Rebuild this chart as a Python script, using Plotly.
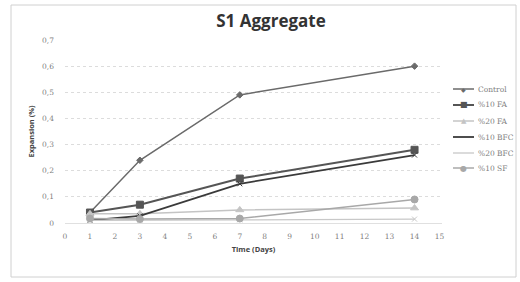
import plotly.graph_objects as go

days = [1, 3, 7, 14]
series_names = ["Control", "%10 FA", "%20 FA", "%10 BFC", "%20 BFC", "%10 SF"]
control = [0.04, 0.24, 0.49, 0.60]
fa10 = [0.04, 0.07, 0.17, 0.28]
fa20 = [0.035, 0.035, 0.05, 0.057]
bfc10 = [0.01, 0.027, 0.15, 0.26]
bfc20 = [0.01, 0.01, 0.012, 0.015]
sf10 = [0.017, 0.015, 0.017, 0.09]
y_tickvals = [0, 0.1, 0.2, 0.3, 0.4, 0.5, 0.6, 0.7]
y_ticktext = ["0", "0,1", "0,2", "0,3", "0,4", "0,5", "0,6", "0,7"]
x_tickvals = list(range(0, 16))

styles = [
    dict(color="#6a6a6a", symbol="diamond", size=5, width=1.5, glyph="◆", gsize=6),
    dict(color="#555555", symbol="square", size=7, width=2, glyph="■", gsize=8),
    dict(color="#c4c4c4", symbol="triangle-up", size=7, width=1.5, glyph="▲", gsize=7),
    dict(color="#3a3a3a", symbol="x-thin", size=5, width=1.8, glyph="", gsize=6),
    dict(color="#c8c8c8", symbol="x-thin", size=5, width=1.3, glyph="", gsize=6),
    dict(color="#a8a8a8", symbol="circle", size=7, width=1.5, glyph="●", gsize=8),
]
data = [control, fa10, fa20, bfc10, bfc20, sf10]

fig = go.Figure()
for name, vals, st in zip(series_names, data, styles):
    fig.add_trace(go.Scatter(
        x=days, y=vals, name=name, mode="lines+markers", showlegend=False,
        line=dict(color=st["color"], width=st["width"]),
        marker=dict(symbol=st["symbol"], size=st["size"], color=st["color"],
                    line=dict(color=st["color"], width=1)),
    ))

# manual legend (plot area: x 65..442 px, y 40..223 px)
PW, PH = 377.0, 183.0
def px_x(px):
    return (px - 65) / PW
def px_y(py):
    return (223 - py) / PH

legend_y = [89, 105, 121, 137, 153, 168]
shapes = [dict(type="rect", xref="paper", yref="paper",
               x0=px_x(11), x1=px_x(516), y0=px_y(277), y1=px_y(5),
               line=dict(color="#d0d0d0", width=1))]
annotations = []
for name, st, ly in zip(series_names, styles, legend_y):
    shapes.append(dict(type="line", xref="paper", yref="paper",
                       x0=px_x(453), x1=px_x(474), y0=px_y(ly), y1=px_y(ly),
                       line=dict(color=st["color"], width=st["width"])))
    if st["glyph"]:
        annotations.append(dict(xref="paper", yref="paper", x=px_x(463.5), y=px_y(ly),
                                text=st["glyph"], showarrow=False, xanchor="center", yanchor="middle",
                                font=dict(size=st["gsize"], color=st["color"], family="DejaVu Sans")))
    annotations.append(dict(xref="paper", yref="paper", x=px_x(476), y=px_y(ly),
                            text=name, showarrow=False, xanchor="left", yanchor="middle",
                            font=dict(size=7.5, color="#808080", family="DejaVu Serif")))

fig.update_layout(
    width=520, height=282,
    margin=dict(l=65, r=78, t=40, b=59, autoexpand=False),
    paper_bgcolor="white", plot_bgcolor="white",
    font=dict(family="DejaVu Serif", size=7.5, color="#808080"),
    title=dict(text="<b>S1 Aggregate</b>", x=271/520, xanchor="center", y=1 - 21/282, yanchor="middle",
               font=dict(family="Open Sans", size=17, color="#333333")),
    showlegend=False,
    xaxis=dict(range=[0, 15.1], tickvals=x_tickvals, showgrid=False, zeroline=False,
               showline=True, linecolor="#e0e0e0", linewidth=1, ticks="", automargin=False,
               ticklabelstandoff=6,
               title=dict(text="<b>Time (Days)</b>", standoff=6,
                          font=dict(family="Open Sans", size=7.5, color="#444444"))),
    yaxis=dict(range=[0, 0.7], tickvals=y_tickvals, ticktext=y_ticktext,
               showgrid=True, gridcolor="#dcdcdc", griddash="dot", gridwidth=1,
               zeroline=False, showline=False, ticks="", automargin=False,
               ticklabelstandoff=10,
               title=dict(text="<b>Expansion (%)</b>", standoff=6,
                          font=dict(family="Open Sans", size=7.5, color="#444444"))),
    shapes=shapes,
    annotations=annotations,
)
fig.write_html("out.html", config={"displayModeBar": False},
               post_script="document.body.style.margin='0px';")
